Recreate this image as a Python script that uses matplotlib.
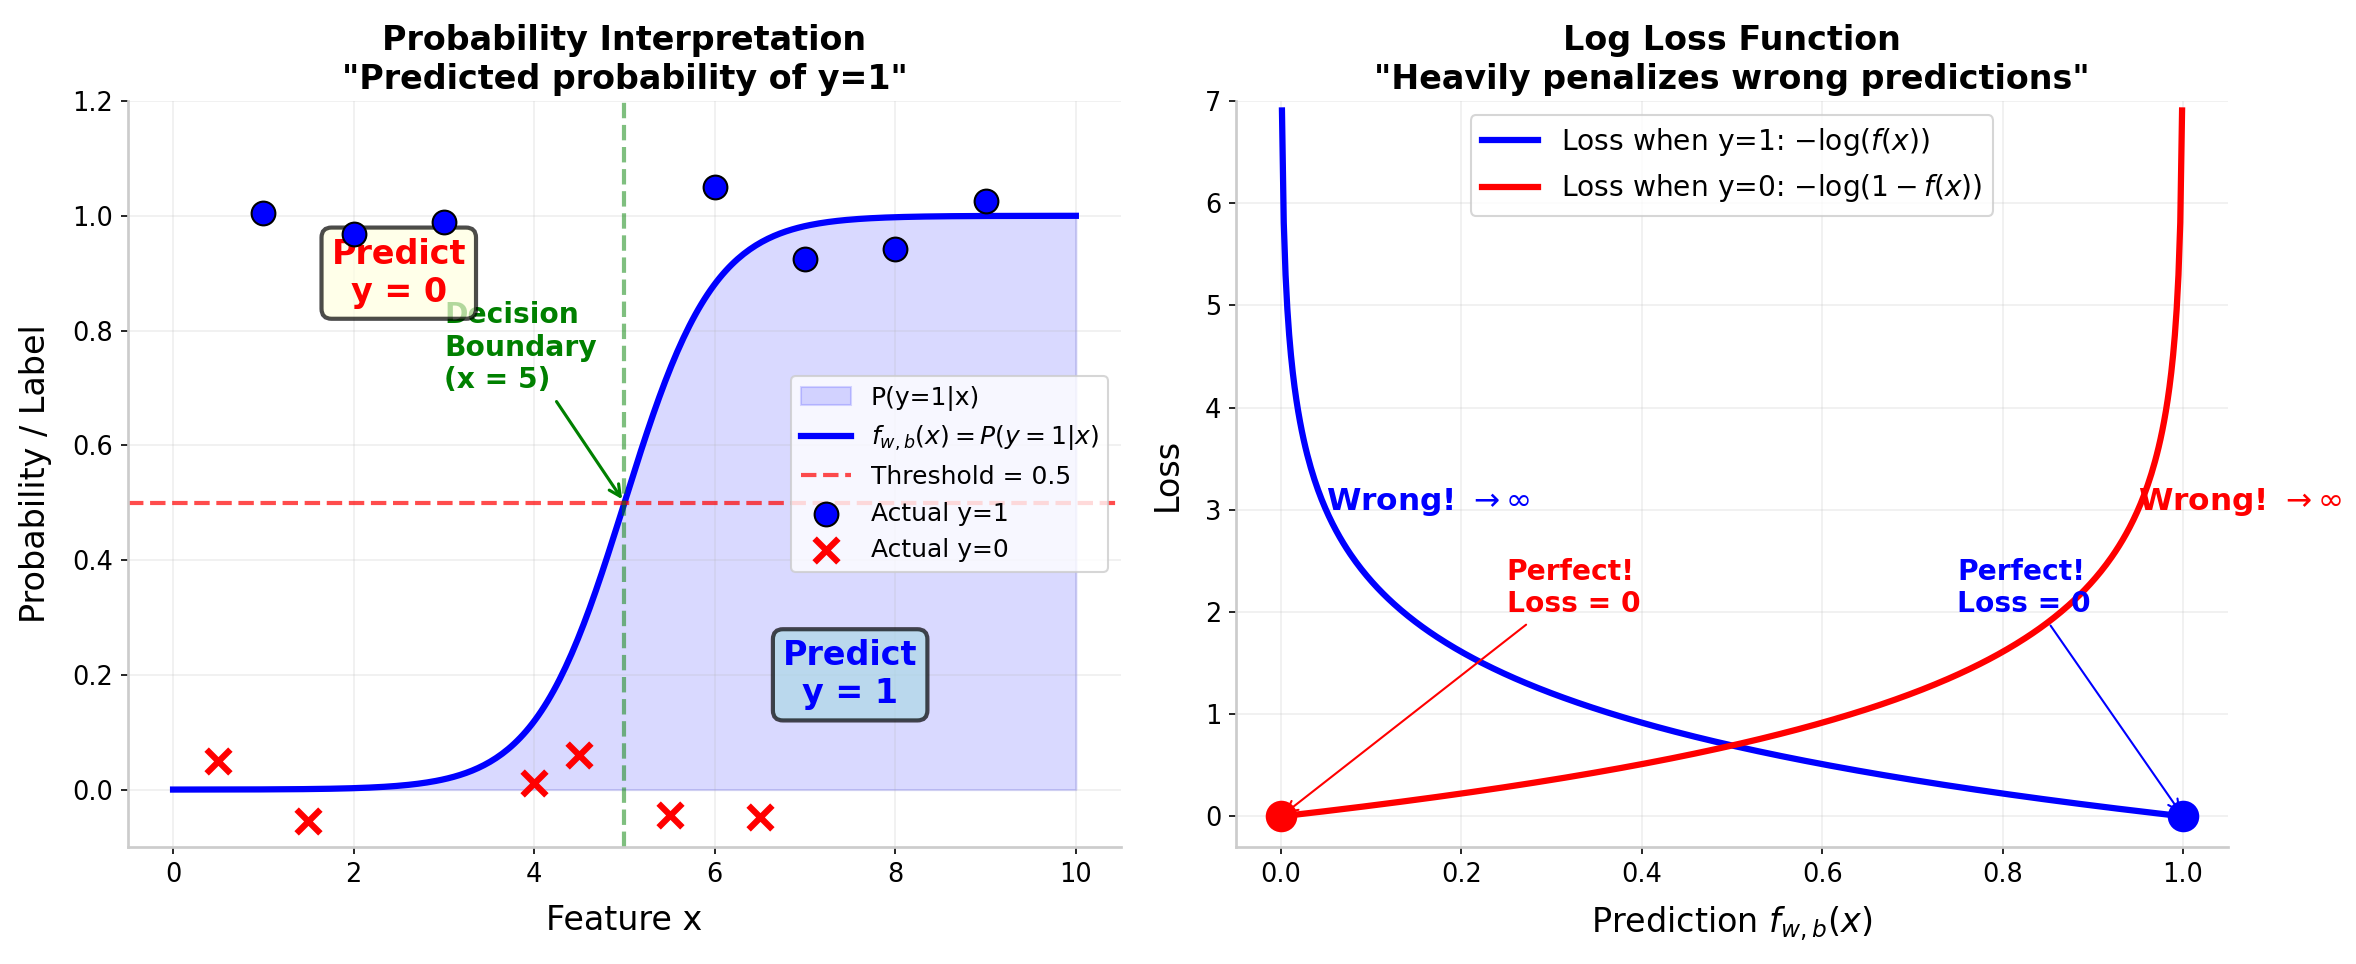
import matplotlib
matplotlib.use("Agg")
import matplotlib.pyplot as plt
import numpy as np

# Data ----------------------------------------------------------------------
pos_x = [1, 2, 3, 6, 7, 8, 9]
pos_y = [1.005, 0.968, 0.990, 1.050, 0.925, 0.942, 1.025]
neg_x = [0.5, 1.5, 4, 4.5, 5.5, 6.5]
neg_y = [0.050, -0.055, 0.012, 0.060, -0.045, -0.048]

w_slope = 2.0
boundary = 5.0
threshold = 0.5

x_feat = np.linspace(0, 10, 300)
prob = 1.0 / (1.0 + np.exp(-w_slope * (x_feat - boundary)))

pred = np.linspace(0.001, 0.999, 500)
loss_y1 = -np.log(pred)
loss_y0 = -np.log(1 - pred)

# Style ---------------------------------------------------------------------
plt.rcParams["font.family"] = "DejaVu Sans"
plt.rcParams["xtick.labelsize"] = 12.3
plt.rcParams["ytick.labelsize"] = 12.3

fig, ax = plt.subplots(1, 2, figsize=(2356/150, 964/150), dpi=150)
ax[0].set_position([0.0543, 0.1214, 0.4758 - 0.0543, 0.8952 - 0.1214])
ax[1].set_position([0.5246, 0.1214, 0.9457 - 0.5246, 0.8952 - 0.1214])

for a in ax:
	a.grid(True, alpha=0.2)
	a.spines["top"].set_visible(False)
	a.spines["right"].set_visible(False)
	a.spines["left"].set_color("#cccccc")
	a.spines["bottom"].set_color("#cccccc")
	a.spines["left"].set_linewidth(1.3)
	a.spines["bottom"].set_linewidth(1.3)

# Left: probability interpretation -----------------------------------------
a = ax[0]
a.fill_between(x_feat, 0, prob, alpha=0.15, color="blue", label="P(y=1|x)")
a.plot(x_feat, prob, color="blue", linewidth=3, label=r"$f_{w,b}(x) = P(y=1|x)$")
a.axhline(threshold, color="red", linestyle="--", linewidth=2, alpha=0.7, label="Threshold = 0.5")
a.axvline(boundary, color="green", linestyle="--", linewidth=2, alpha=0.5)
a.scatter(pos_x, pos_y, s=130, c="blue", edgecolors="black", linewidths=1, zorder=5, label="Actual y=1")
a.scatter(neg_x, neg_y, s=130, c="red", marker="x", linewidths=3, zorder=5, label="Actual y=0")

a.annotate("Decision\nBoundary\n(x = 5)", xy=(boundary, threshold), xytext=(3, 0.7),
		   fontsize=13.5, fontweight="bold", color="green",
		   arrowprops=dict(arrowstyle="->", color="green", lw=1.5))
a.text(2.5, 0.9, "Predict\ny = 0", fontsize=16, fontweight="bold", color="red",
	   ha="center", va="center",
	   bbox=dict(boxstyle="round", facecolor="lightyellow", alpha=0.7, linewidth=2))
a.text(7.5, 0.2, "Predict\ny = 1", fontsize=16, fontweight="bold", color="blue",
	   ha="center", va="center",
	   bbox=dict(boxstyle="round", facecolor="lightblue", alpha=0.7, linewidth=2))

a.set_xticks([0, 2, 4, 6, 8, 10])
a.set_ylim(-0.1, 1.2)
a.set_xlabel("Feature x", fontsize=16, labelpad=8)
a.set_ylabel("Probability / Label", fontsize=16, labelpad=10)
a.set_title("Probability Interpretation\n\"Predicted probability of y=1\"", fontsize=16, fontweight="bold")
a.legend(loc="center right", fontsize=12)

# Right: log loss -----------------------------------------------------------
a = ax[1]
a.plot(pred, loss_y1, color="blue", linewidth=3, label=r"Loss when y=1: $-\log(f(x))$")
a.plot(pred, loss_y0, color="red", linewidth=3, label=r"Loss when y=0: $-\log(1-f(x))$")
a.scatter([0], [0], s=200, c="red", zorder=5)
a.scatter([1], [0], s=200, c="blue", zorder=5)

a.text(0.05, 3, r"Wrong! $\rightarrow \infty$", fontsize=15, fontweight="bold", color="blue")
a.text(0.95, 3, r"Wrong! $\rightarrow \infty$", fontsize=15, fontweight="bold", color="red")
a.annotate("Perfect!\nLoss = 0", xy=(0, 0), xytext=(0.25, 2), fontsize=13.5, fontweight="bold",
		   color="red", arrowprops=dict(arrowstyle="->", color="red", lw=1))
a.annotate("Perfect!\nLoss = 0", xy=(1, 0), xytext=(0.75, 2), fontsize=13.5, fontweight="bold",
		   color="blue", arrowprops=dict(arrowstyle="->", color="blue", lw=1))

a.set_ylim(-0.3, 7)
a.set_xlabel(r"Prediction $f_{w,b}(x)$", fontsize=16, labelpad=8)
a.set_ylabel("Loss", fontsize=16, labelpad=10)
a.set_title("Log Loss Function\n\"Heavily penalizes wrong predictions\"", fontsize=16, fontweight="bold")
a.legend(loc="upper center", fontsize=13.5)

fig.savefig("out.png", dpi=150)
